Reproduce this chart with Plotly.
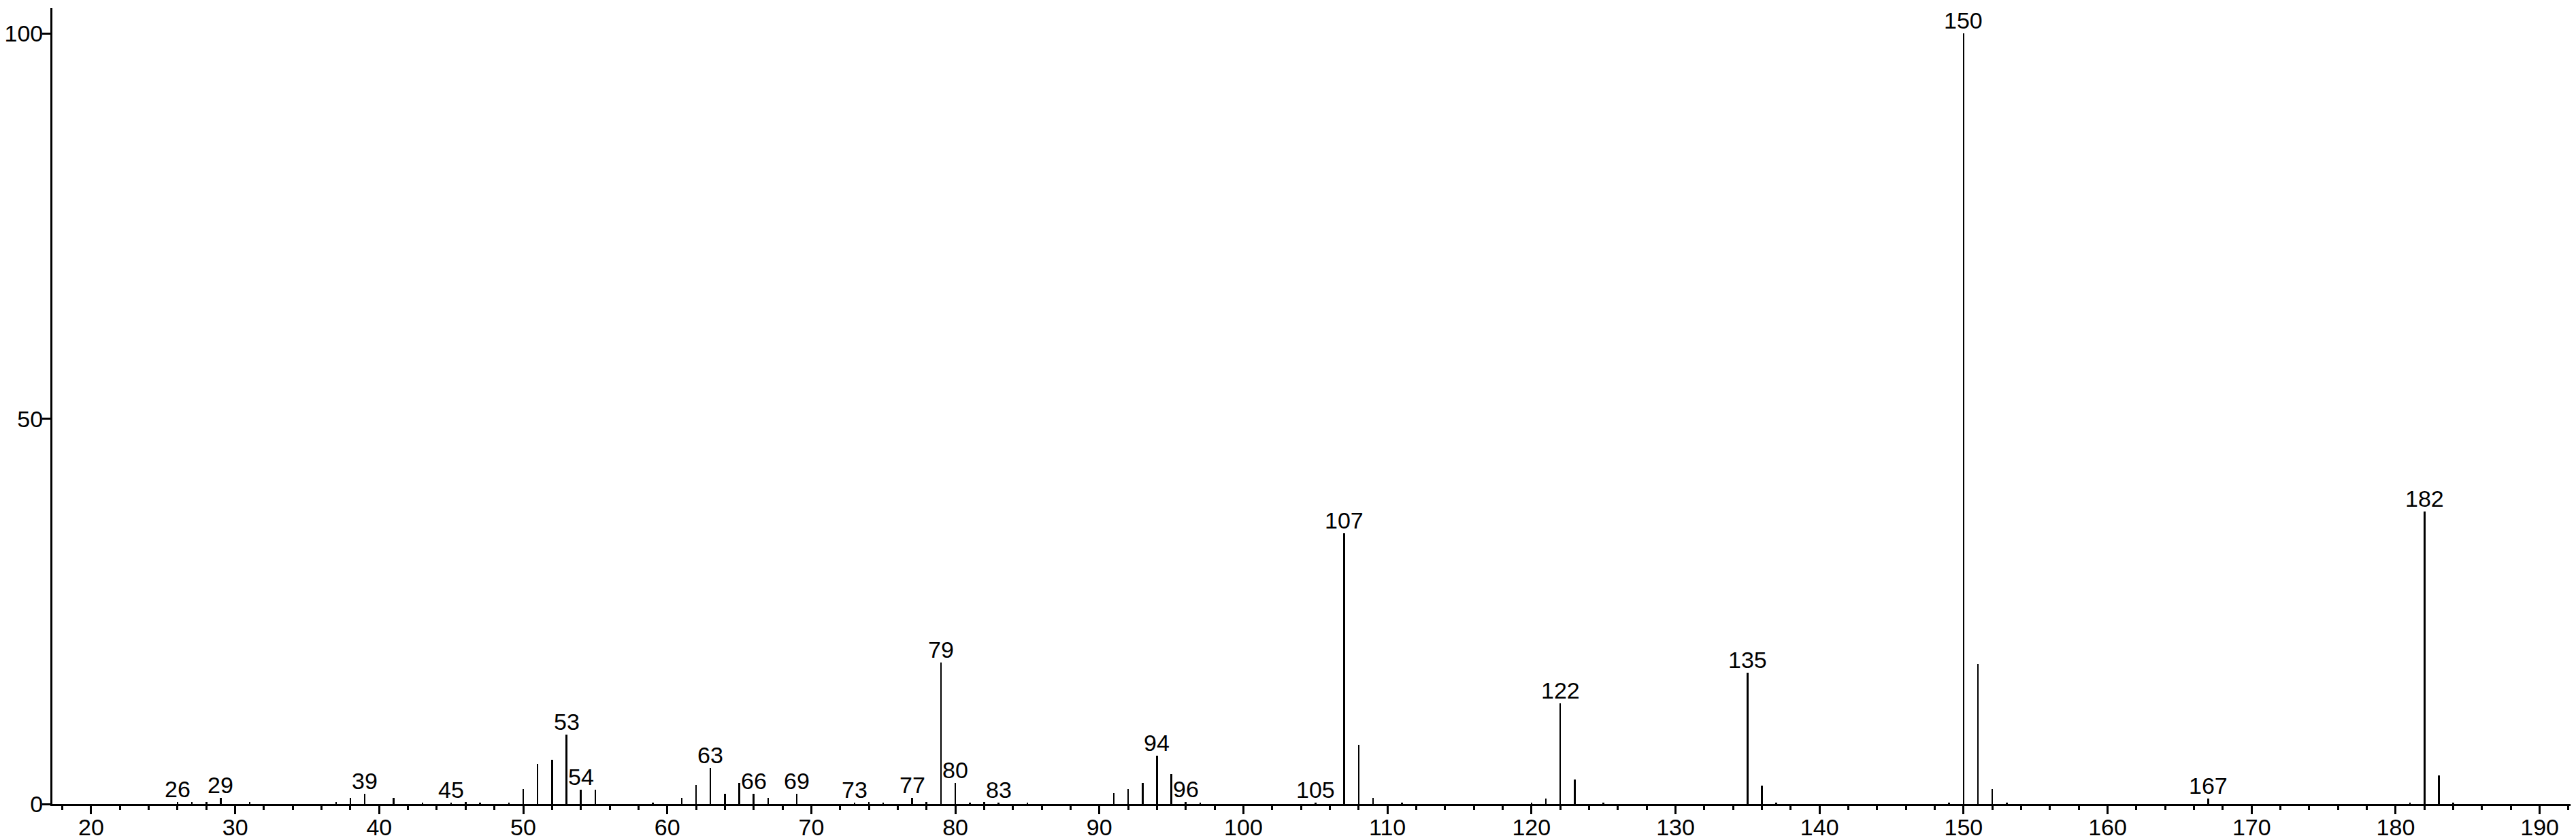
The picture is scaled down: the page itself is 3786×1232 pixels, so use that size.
import plotly.graph_objects as go

# m/z values and relative intensities
mz = [26, 27, 28, 29, 31, 37, 38, 39, 41, 43, 45, 46, 47, 49,
      50, 51, 52, 53, 54, 55, 59, 61, 62, 63, 64, 65, 66, 67, 69,
      73, 74, 75, 77, 78, 79, 80, 81, 82, 83, 85,
      91, 92, 93, 94, 95, 96, 97, 105, 107, 108, 109, 111,
      120, 121, 122, 123, 125, 135, 136, 137,
      149, 150, 151, 152, 153, 167, 181, 182, 183, 184]
intensity = [0.3, 0.25, 0.3, 0.8, 0.25, 0.25, 0.8, 1.3, 0.8, 0.2, 0.2, 0.3, 0.2, 0.2,
             1.9, 5.2, 5.7, 9.05, 1.85, 1.85, 0.2, 0.8, 2.45, 4.65, 1.3, 2.7, 1.3, 0.8, 1.3,
             0.2, 0.25, 0.2, 0.8, 0.25, 18.4, 2.7, 0.2, 0.25, 0.2, 0.2,
             1.4, 1.9, 2.7, 6.3, 3.9, 0.25, 0.2, 0.2, 35.1, 7.65, 0.8, 0.2,
             0.2, 0.75, 13.1, 3.2, 0.2, 17.0, 2.4, 0.2,
             0.2, 100.0, 18.2, 1.95, 0.15, 0.75, 0.2, 38.0, 3.75, 0.2]

labelled_mz = [26, 29, 39, 45, 53, 54, 63, 66, 69, 73, 77, 79, 80, 83,
               94, 96, 105, 107, 122, 135, 150, 167, 182]

x_ticks = [20, 30, 40, 50, 60, 70, 80, 90, 100, 110, 120, 130, 140, 150, 160, 170, 180, 190]
y_ticks = [0, 50, 100]

FONT = "Liberation Sans, Arial, Helvetica, sans-serif"

fig = go.Figure()
fig.add_trace(go.Bar(
    x=mz, y=intensity, width=0.12,
    marker=dict(color="black", line=dict(width=0)),
    hoverinfo="x+y",
))

lookup = dict(zip(mz, intensity))
for m in labelled_mz:
    fig.add_annotation(
        x=m, y=lookup[m], text=str(m), showarrow=False,
        xanchor="center", yanchor="bottom", yshift=-2,
        font=dict(family=FONT, size=34, color="black"),
    )

fig.update_layout(
    template="none",
    width=3786, height=1232,
    margin=dict(l=69, r=0, t=4, b=58, autoexpand=False),
    paper_bgcolor="white", plot_bgcolor="white",
    showlegend=False,
    bargap=0,
    font=dict(family=FONT, size=34, color="black"),
)

fig.update_xaxes(
    automargin=False,
    range=[17.31, 192.9],
    tickmode="array", tickvals=x_ticks, ticktext=[str(v) for v in x_ticks],
    ticks="outside", ticklen=12, tickwidth=3, tickcolor="black",
    ticklabelstandoff=-10,
    minor=dict(dtick=2, tick0=0, ticks="outside", ticklen=6, tickwidth=3, tickcolor="black"),
    showline=True, linewidth=3, linecolor="black",
    showgrid=False, zeroline=False,
    tickfont=dict(family=FONT, size=34, color="black"),
)
fig.update_yaxes(
    automargin=False,
    range=[0, 103.3],
    tickmode="array", tickvals=y_ticks, ticktext=[str(v) for v in y_ticks],
    ticks="outside", ticklen=12, tickwidth=3, tickcolor="black",
    ticklabelstandoff=-8,
    showline=True, linewidth=3, linecolor="black",
    showgrid=False, zeroline=False,
    tickfont=dict(family=FONT, size=34, color="black"),
)

fig.write_html("out.html")
